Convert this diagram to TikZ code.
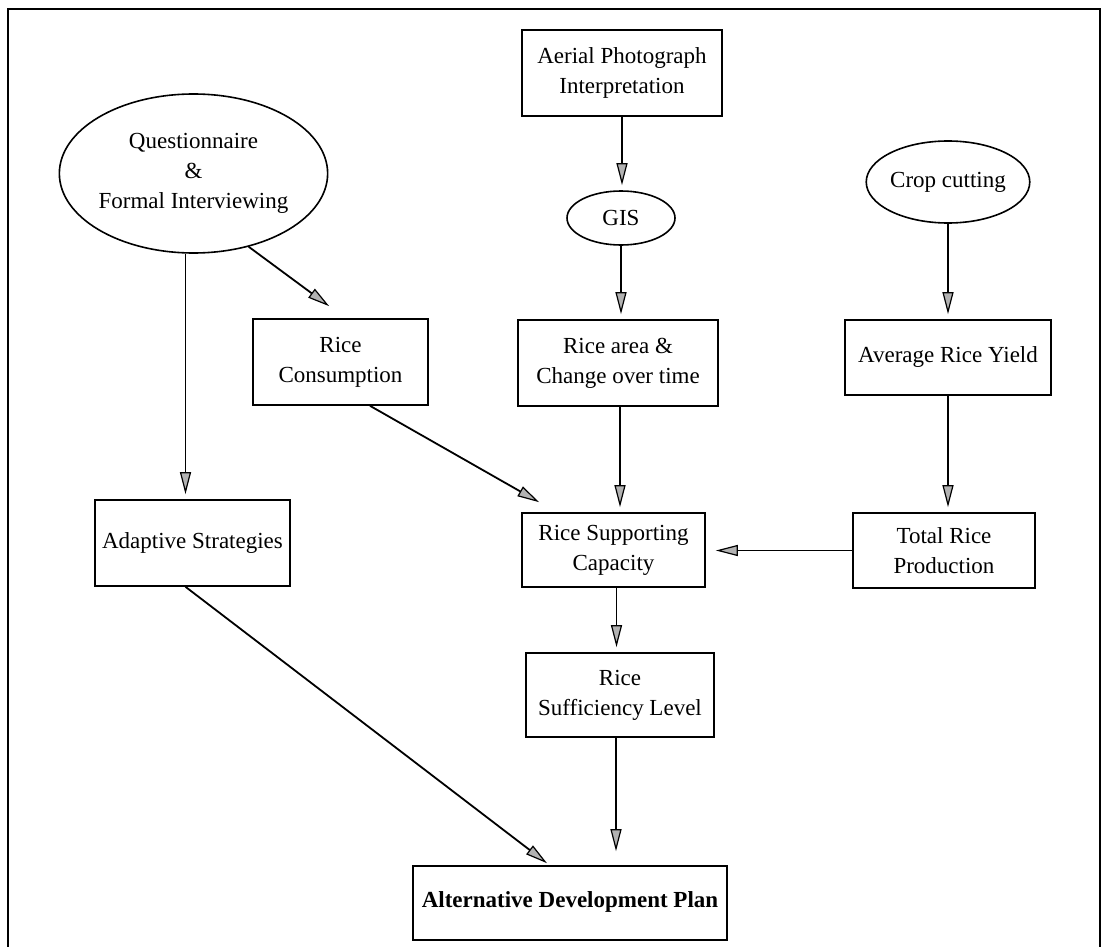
\documentclass[tikz,border=0pt]{standalone}
\usepackage{fontspec}
\setmainfont{Liberation Serif}
\usetikzlibrary{arrows.meta,shapes.geometric,calc}
\begin{document}
\begin{tikzpicture}[x=1pt,y=-1pt,
  every node/.style={font=\fontsize{23}{30}\selectfont, align=center, inner sep=0pt},
  box/.style={draw, rectangle, line width=1.6pt},
  oval/.style={draw, ellipse, line width=1.6pt},
  arr/.style={draw, line width=1.8pt, -{Triangle[length=22pt,width=11pt,fill=gray!60,line width=1.2pt]}, shorten >=5pt},
  frame/.style={line width=1.8pt}]
\useasboundingbox (0,0) rectangle (1106,947);
\draw[frame] (8,947) -- (8,9) -- (1100,9) -- (1100,947);

\node[box, minimum width=200pt, minimum height=86pt] (aerial) at (622,73) {Aerial Photograph\\Interpretation};
\node[oval, minimum width=108pt, minimum height=54pt] (gis) at (621,218) {GIS};
\node[oval, minimum width=221pt, minimum height=159pt] (quest) at (193.5,173.5) {Questionnaire\\\&\\Formal Interviewing};
\node[oval, minimum width=150pt, minimum height=82pt] (crop) at (948,182) {Crop cutting};
\node[box, minimum width=175pt, minimum height=86pt] (cons) at (340.5,362) {Rice\\Consumption};
\node[box, minimum width=200pt, minimum height=86pt] (area) at (618,363) {Rice area \&\\Change over time};
\node[box, minimum width=206pt, minimum height=75pt] (avg) at (948,357.5) {Average Rice Yield};
\node[box, minimum width=195pt, minimum height=86pt] (adapt) at (192.5,543) {Adaptive Strategies};
\node[box, minimum width=183pt, minimum height=74pt] (supp) at (613.5,550) {Rice Supporting\\Capacity};
\node[box, minimum width=182pt, minimum height=75pt] (total) at (944,550.5) {Total Rice\\Production};
\node[box, minimum width=188pt, minimum height=84pt] (suff) at (620,695) {Rice\\Sufficiency Level};
\node[box, minimum width=314pt, minimum height=74pt] (alt) at (570,903) {\raisebox{6pt}{\bfseries Alternative Development Plan}};

\coordinate (consin) at ($(cons.north west)+(77,-12)$);
\coordinate (suppin) at ($(supp.north west)+(18,-10)$);
\coordinate (altin) at ($(alt.north)+(-23,-2)$);
\coordinate (qout) at ($(quest.south)+(-8,0)$);
\coordinate (aout) at ($(area.south)+(2,0)$);
\coordinate (sout) at ($(supp.south)+(3,0)$);
\coordinate (fout) at ($(suff.south)+(-4,0)$);
\coordinate (dout) at ($(adapt.south)+(-7,0)$);
\coordinate (cout) at ($(cons.south)+(29.5,0)$);

\draw[arr] (aerial.south) -- (aerial.south |- gis.north);
\draw[arr] (gis.south) -- (gis.south |- area.north);
\draw[arr] (qout) -- (qout |- adapt.north);
\draw[arr, shorten >=0pt] (quest.-53) -- (consin);
\draw[arr] (crop.south) -- (crop.south |- avg.north);
\draw[arr, shorten >=0pt] (cout) -- (suppin);
\draw[arr] (aout) -- (aout |- supp.north);
\draw[arr] (avg.south) -- (avg.south |- total.north);
\draw[arr, shorten >=10pt] (total.west) -- (total.west -| supp.east);
\draw[arr] (sout) -- (sout |- suff.north);
\draw[arr, shorten >=14pt] (fout) -- (fout |- alt.north);
\draw[arr, shorten >=0pt] (dout) -- (altin);
\end{tikzpicture}
\end{document}
